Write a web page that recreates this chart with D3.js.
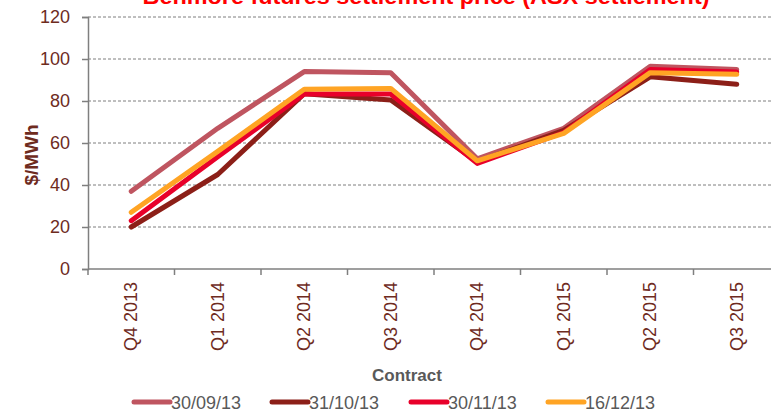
<!DOCTYPE html>
<html>
<head>
<meta charset="utf-8">
<script src="https://cdn.jsdelivr.net/npm/d3@7"></script>
<style>
  body { margin: 0; background: #fff; }
  text { font-family: "Liberation Sans", Arial, sans-serif; }
</style>
</head>
<body>
<div id="container"></div>
<script>
/* DATA */
const contracts = ["Q4 2013", "Q1 2014", "Q2 2014", "Q3 2014", "Q4 2014", "Q1 2015", "Q2 2015", "Q3 2015"];
const seriesNames = ["30/09/13", "31/10/13", "30/11/13", "16/12/13"];
const sep30 = [37, 67, 94, 93.5, 52.5, 67, 96.5, 95];
const oct31 = [20, 45, 83.5, 80.5, 51, 66, 91.5, 88];
const nov30 = [23, 53.5, 83.3, 83.3, 50.3, 65, 95, 93.8];
const dec16 = [27, 56, 85.6, 86, 51.5, 64.6, 93.5, 92.7];
const yTicks = [0, 20, 40, 60, 80, 100, 120];

const colors = ["#bf5560", "#8c1f18", "#e8002a", "#ffa424"];
const allSeries = [sep30, oct31, nov30, dec16];

/* CONSTANTS */
const width = 771, height = 412,
  margin = { top: 17, bottom: 143, left: 88, right: -9 };

const svg = d3.select("#container")
  .append("svg")
  .attr("width", width)
  .attr("height", height);

// SCALES
const x = d3.scaleBand()
  .domain(contracts)
  .range([margin.left, width - margin.right]);

const y = d3.scaleLinear()
  .domain([0, 120])
  .range([height - margin.bottom, margin.top]);

// GRIDLINES
svg.selectAll("line.grid")
  .data(yTicks.filter(d => d > 0))
  .join("line")
  .attr("class", "grid")
  .attr("x1", margin.left)
  .attr("x2", width)
  .attr("y1", d => y(d))
  .attr("y2", d => y(d))
  .attr("stroke", "#7f7f7f")
  .attr("stroke-width", 1)
  .attr("stroke-dasharray", "3,2");

// Y AXIS
const yAxis = svg.append("g")
  .attr("transform", `translate(${margin.left},0)`)
  .call(d3.axisLeft(y).tickValues(yTicks).tickSize(6).tickPadding(12));
yAxis.select(".domain").attr("stroke", "#7f7f7f").attr("stroke-width", 1.5);
yAxis.selectAll(".tick line").attr("stroke", "#7f7f7f").attr("stroke-width", 1.5);
yAxis.selectAll(".tick text")
  .attr("fill", "#6e2b1e")
  .attr("font-size", 18)
  .attr("font-family", "Liberation Sans, Arial, sans-serif");

// X AXIS (ticks on band edges)
const xAxisG = svg.append("g");
xAxisG.append("line")
  .attr("x1", margin.left).attr("x2", width)
  .attr("y1", y(0)).attr("y2", y(0))
  .attr("stroke", "#7f7f7f").attr("stroke-width", 1.5);
xAxisG.selectAll("line.xtick")
  .data(contracts)
  .join("line")
  .attr("class", "xtick")
  .attr("x1", d => x(d)).attr("x2", d => x(d))
  .attr("y1", y(0)).attr("y2", y(0) + 6)
  .attr("stroke", "#7f7f7f").attr("stroke-width", 1.5);
xAxisG.selectAll("text.xlabel")
  .data(contracts)
  .join("text")
  .attr("class", "xlabel")
  .attr("transform", d => `translate(${x(d) + x.bandwidth() / 2 + 6},${y(0) + 13}) rotate(-90)`)
  .attr("text-anchor", "end")
  .attr("fill", "#6e2b1e")
  .attr("font-size", 18)
  .text(d => d);

// LINES
const lineGen = d3.line()
  .x((d, i) => x(contracts[i]) + x.bandwidth() / 2)
  .y(d => y(d));

svg.selectAll("path.series")
  .data(allSeries)
  .join("path")
  .attr("class", "series")
  .attr("d", d => lineGen(d))
  .attr("fill", "none")
  .attr("stroke", (d, i) => colors[i])
  .attr("stroke-width", 5)
  .attr("stroke-linejoin", "round")
  .attr("stroke-linecap", "round");

// TITLE (top is clipped by the page edge, as in the original)
svg.append("text")
  .attr("x", 426)
  .attr("y", 4)
  .attr("text-anchor", "middle")
  .attr("fill", "#ff0000")
  .attr("font-weight", "bold")
  .attr("font-size", 22)
  .attr("textLength", 567)
  .attr("lengthAdjust", "spacingAndGlyphs")
  .text("Benmore futures settlement price (ASX settlement)");

// AXIS TITLES
svg.append("text")
  .attr("transform", `translate(38,155) rotate(-90)`)
  .attr("text-anchor", "middle")
  .attr("fill", "#6e2b1e")
  .attr("font-weight", "bold")
  .attr("font-size", 19)
  .text("$/MWh");

svg.append("text")
  .attr("x", 407)
  .attr("y", 381)
  .attr("text-anchor", "middle")
  .attr("fill", "#595959")
  .attr("font-weight", "bold")
  .attr("font-size", 17)
  .text("Contract");

// LEGEND
const legendX = [134, 272, 411, 548];
const legend = svg.selectAll("g.legend")
  .data(seriesNames)
  .join("g")
  .attr("class", "legend")
  .attr("transform", (d, i) => `translate(${legendX[i]},402)`);
legend.append("line")
  .attr("x1", 0).attr("x2", 36)
  .attr("y1", 0).attr("y2", 0)
  .attr("stroke", (d, i) => colors[i])
  .attr("stroke-width", 5)
  .attr("stroke-linecap", "round");
legend.append("text")
  .attr("x", 37)
  .attr("y", 7)
  .attr("fill", "#595959")
  .attr("font-size", 18)
  .text(d => d);
</script>
</body>
</html>
